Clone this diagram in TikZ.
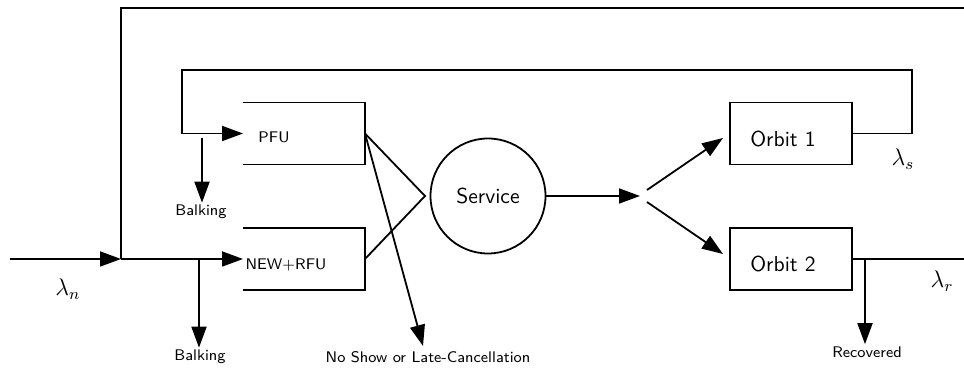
\documentclass[tikz,border=0pt]{standalone}
\usepackage{fontspec}
\usetikzlibrary{arrows.meta,calc}
\begin{document}
\begin{tikzpicture}[x=0.5pt,y=-0.5pt,
  wire/.style={line width=0.9pt},
  tip/.style={wire,-{Triangle[length=10.5pt,width=7.5pt]}},
  queue/.style={minimum width=61pt,minimum height=31pt,inner sep=0pt,outer sep=0pt},
  orbitbox/.style={draw,wire,minimum width=61pt,minimum height=31pt,inner sep=0pt,outer sep=0pt},
  small/.style={font=\sffamily\fontsize{7.7}{9}\selectfont,inner sep=1pt},
  big/.style={font=\sffamily\fontsize{10.8}{13}\selectfont,inner sep=1pt},
  rate/.style={font=\fontsize{11.5}{14}\selectfont,inner sep=1pt}]
\useasboundingbox (0,0) rectangle (964,368);

% queues (open on the left)
\node[queue] (pfu) at (304,133.5) {};
\node[queue] (nr)  at (304,259) {};
\draw[wire] (pfu.north west) -- (pfu.north east) -- (pfu.south east) -- (pfu.south west);
\draw[wire] (nr.north west) -- (nr.north east) -- (nr.south east) -- (nr.south west);
\node[small] (pfut) at (274,137.5) {PFU};
\node[small] (nrt)  at (286,264.5) {NEW+RFU};

% service station and orbits
\node[circle,draw,wire,minimum size=57.5pt,inner sep=0pt,big] (svc) at (488,196) {Service};
\node[orbitbox] (o1) at (791,133.5) {};
\node[orbitbox] (o2) at (791,259) {};
\node[big] (o1t) at (783,139) {Orbit 1};
\node[big] (o2t) at (783,264.5) {Orbit 2};

% labels
\node[small] (bk1) at (201,212) {Balking};
\node[small] (bk2) at (200,357) {Balking};
\node[small] (ns)  at (428,357) {No Show or Late-Cancellation};
\node[small] (rec) at (867,352) {Recovered};
\node[rate] (ln) at (68,289) {$\lambda_n$};
\node[rate] (ls) at (903,159) {$\lambda_s$};
\node[rate] (lr) at (942,281) {$\lambda_r$};

% auxiliary points
\coordinate (src) at (10,259);
\coordinate (j1) at (121,259);
\coordinate (outTop) at (964,8);
\coordinate (loopR) at (912,70);
\coordinate (loopL) at (182,133.5);
\coordinate (bal1) at (202,138);
\coordinate (bal2) at (199,259);
\coordinate (cv) at (425,196);
\coordinate (nsEnd) at (423,346);
\coordinate (split) at (640,196);
\coordinate (s1) at (647,190);
\coordinate (s2) at (647,202);
\coordinate (t1) at (723,138);
\coordinate (t2) at (723,254);
\coordinate (outR) at (964,259);
\coordinate (recJ) at (865,259);

% arrivals
\draw[tip] (src) -- (j1);
\draw[tip] (j1) -- (nr.west);
\draw[wire] (j1) |- (outTop);
\draw[tip] (bal2) -- (bal2 |- bk2.north);

% retrial loop from orbit 1
\draw[tip] (o1.east) -| (loopR) -| (loopL) -- (pfu.west);
\draw[tip] (bal1) -- (bal1 |- bk1.north);

% into service
\draw[wire] (pfu.east) -- (cv) -- (nr.east);
\draw[tip] (pfu.east) -- (nsEnd);
\draw[tip] (svc.east) -- (split);
\draw[tip] (s1) -- (t1);
\draw[tip] (s2) -- (t2);

% leaving orbit 2
\draw[wire] (o2.east) -- (outR);
\draw[tip] (recJ) -- (recJ |- rec.north);
\end{tikzpicture}
\end{document}
